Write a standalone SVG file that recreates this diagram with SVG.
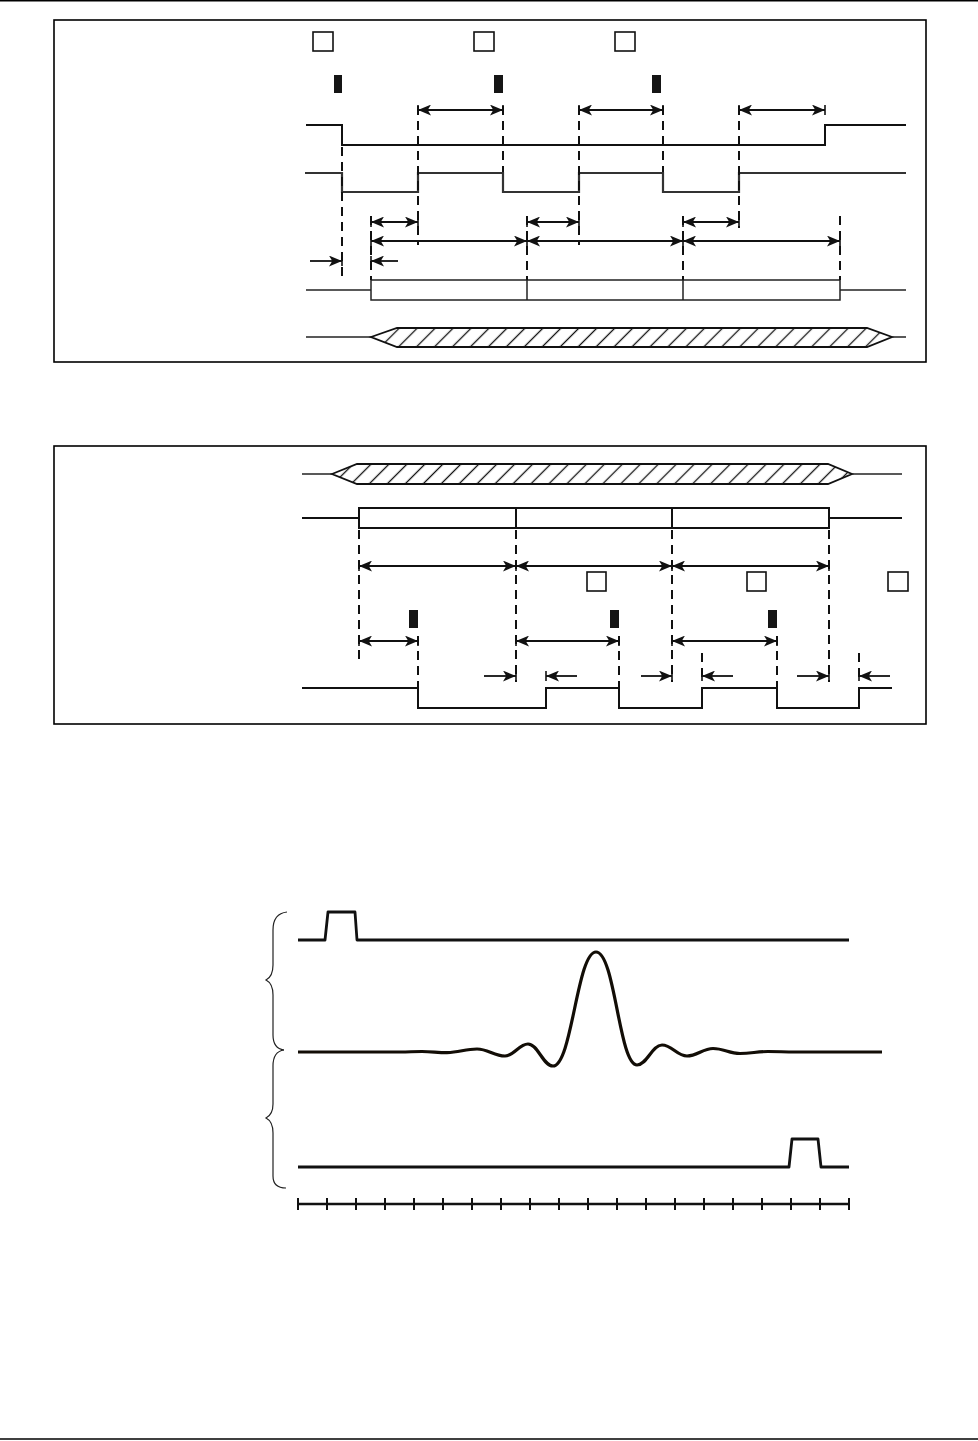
<svg xmlns="http://www.w3.org/2000/svg" width="978" height="1441" viewBox="0 0 978 1441">
<style>
.frame{fill:none;stroke:#000;stroke-width:1.6}
.sig{fill:none;stroke:#111;stroke-width:2;stroke-linejoin:miter}
.sig2{fill:none;stroke:#333;stroke-width:2.2}
.thin{fill:none;stroke:#222;stroke-width:1.5}
.dash{stroke:#111;stroke-width:2;stroke-dasharray:9 6}
.arr{stroke:#111;stroke-width:1.8;fill:none}
.tick{stroke:#111;stroke-width:1.6}
.sq{fill:#fff;stroke:#111;stroke-width:1.6}
.bar{fill:#151515}
.thick{fill:none;stroke:#111;stroke-width:2.8;stroke-linejoin:round}
.wave{fill:none;stroke:#120d06;stroke-width:3.2}
.brace{fill:none;stroke:#222;stroke-width:1.2}
</style>
<defs>
<marker id="ah" viewBox="0 0 12 10" refX="12" refY="5" markerWidth="13" markerHeight="11" markerUnits="userSpaceOnUse" orient="auto-start-reverse">
<path d="M0,0 L12,5 L0,10 L3,5 Z" fill="#111"/>
</marker>
<pattern id="hatch" patternUnits="userSpaceOnUse" width="12.7" height="12.7" patternTransform="rotate(45)">
<line x1="6.35" y1="0" x2="6.35" y2="12.7" stroke="#111" stroke-width="1.3"/>
</pattern>
</defs>
<rect width="978" height="1441" fill="#fff"/>
<line x1="0" y1="0.75" x2="978" y2="0.75" stroke="#000" stroke-width="1.5"/>
<line x1="0" y1="1439" x2="978" y2="1439" stroke="#000" stroke-width="1.5"/>

<g id="panel1">
<rect class="frame" x="54" y="20" width="872" height="342"/>
<g id="p1-markers">
<rect class="sq" x="313" y="32" width="20" height="19"/>
<rect class="sq" x="474" y="32" width="20" height="19"/>
<rect class="sq" x="615" y="32" width="20" height="19"/>
<rect class="bar" x="334" y="75" width="8" height="18"/>
<rect class="bar" x="494" y="75" width="9" height="18"/>
<rect class="bar" x="652" y="75" width="9" height="18"/>
</g>
<g id="p1-signals">
<polyline class="sig" points="306,125 342,125 342,145 825,145 825,125 906,125"/>
<polyline class="sig2" points="305,173 342,173 342,192 418,192 418,173 503,173 503,192 579,192 579,173 663,173 663,192 739,192 739,173 906,173"/>
<line class="thin" x1="306" y1="290" x2="371" y2="290"/>
<rect class="thin" x="371" y="280" width="469" height="20"/>
<line class="thin" x1="527" y1="280" x2="527" y2="300"/>
<line class="thin" x1="683" y1="280" x2="683" y2="300"/>
<line class="thin" x1="840" y1="290" x2="906" y2="290"/>
<line class="thin" x1="306" y1="337" x2="371" y2="337"/>
<polygon points="371,337 397,328 867,328 892,337 867,347 397,347" fill="url(#hatch)" stroke="#111" stroke-width="1.8"/>
<line class="thin" x1="892" y1="337" x2="906" y2="337"/>
</g>
<g id="p1-connectors">
<line class="dash" x1="342" y1="147" x2="342" y2="282"/>
<line class="dash" x1="418" y1="106" x2="418" y2="245"/>
<line class="dash" x1="503" y1="106" x2="503" y2="172"/>
<line class="dash" x1="579" y1="106" x2="579" y2="245"/>
<line class="dash" x1="663" y1="106" x2="663" y2="172"/>
<line class="dash" x1="739" y1="106" x2="739" y2="228"/>
<line class="dash" x1="371" y1="216" x2="371" y2="280"/>
<line class="dash" x1="527" y1="216" x2="527" y2="280"/>
<line class="dash" x1="683" y1="216" x2="683" y2="280"/>
<line class="dash" x1="840" y1="216" x2="840" y2="280"/>
<g class="tick">
<line x1="418" y1="105" x2="418" y2="115"/><line x1="503" y1="105" x2="503" y2="115"/>
<line x1="579" y1="105" x2="579" y2="115"/><line x1="663" y1="105" x2="663" y2="115"/>
<line x1="739" y1="105" x2="739" y2="115"/><line x1="825" y1="105" x2="825" y2="115"/>
<line x1="371" y1="217" x2="371" y2="227"/><line x1="418" y1="217" x2="418" y2="227"/>
<line x1="527" y1="217" x2="527" y2="227"/><line x1="579" y1="217" x2="579" y2="227"/>
<line x1="683" y1="217" x2="683" y2="227"/><line x1="739" y1="217" x2="739" y2="227"/>
<line x1="371" y1="236" x2="371" y2="246"/><line x1="527" y1="236" x2="527" y2="246"/>
<line x1="683" y1="236" x2="683" y2="246"/><line x1="840" y1="236" x2="840" y2="246"/>
<line x1="342" y1="256" x2="342" y2="266"/><line x1="371" y1="256" x2="371" y2="266"/>
</g>
<line class="arr" x1="418" y1="110" x2="503" y2="110" marker-start="url(#ah)" marker-end="url(#ah)"/>
<line class="arr" x1="579" y1="110" x2="663" y2="110" marker-start="url(#ah)" marker-end="url(#ah)"/>
<line class="arr" x1="739" y1="110" x2="825" y2="110" marker-start="url(#ah)" marker-end="url(#ah)"/>
<line class="arr" x1="371" y1="222" x2="418" y2="222" marker-start="url(#ah)" marker-end="url(#ah)"/>
<line class="arr" x1="527" y1="222" x2="579" y2="222" marker-start="url(#ah)" marker-end="url(#ah)"/>
<line class="arr" x1="683" y1="222" x2="739" y2="222" marker-start="url(#ah)" marker-end="url(#ah)"/>
<line class="arr" x1="371" y1="241" x2="527" y2="241" marker-start="url(#ah)" marker-end="url(#ah)"/>
<line class="arr" x1="527" y1="241" x2="683" y2="241" marker-start="url(#ah)" marker-end="url(#ah)"/>
<line class="arr" x1="683" y1="241" x2="840" y2="241" marker-start="url(#ah)" marker-end="url(#ah)"/>
<line class="arr" x1="310" y1="261" x2="342" y2="261" marker-end="url(#ah)"/>
<line class="arr" x1="398" y1="261" x2="371" y2="261" marker-end="url(#ah)"/>
</g>
</g>

<g id="panel2">
<rect class="frame" x="54" y="446" width="872" height="278"/>
<g id="p2-signals">
<line class="thin" x1="302" y1="474" x2="332" y2="474"/>
<polygon points="332,474 357,464 828,464 852,474 828,484 357,484" fill="url(#hatch)" stroke="#111" stroke-width="1.8"/>
<line class="thin" x1="852" y1="474" x2="902" y2="474"/>
<line class="sig" x1="302" y1="518" x2="359" y2="518"/>
<rect class="sig" x="359" y="508" width="470" height="20"/>
<line class="sig" x1="516" y1="508" x2="516" y2="528"/>
<line class="sig" x1="672" y1="508" x2="672" y2="528"/>
<line class="sig" x1="829" y1="518" x2="902" y2="518"/>
<polyline class="sig" points="302,688 418,688 418,708 546,708 546,688 619,688 619,708 702,708 702,688 777,688 777,708 859,708 859,688 892,688"/>
</g>
<g id="p2-markers">
<rect class="sq" x="587" y="572" width="19" height="19"/>
<rect class="sq" x="747" y="572" width="19" height="19"/>
<rect class="sq" x="888" y="572" width="20" height="19"/>
<rect class="bar" x="409" y="610" width="9" height="18"/>
<rect class="bar" x="610" y="610" width="9" height="18"/>
<rect class="bar" x="768" y="610" width="9" height="18"/>
</g>
<g id="p2-connectors">
<line class="dash" x1="359" y1="530" x2="359" y2="664"/>
<line class="dash" x1="516" y1="530" x2="516" y2="682"/>
<line class="dash" x1="672" y1="530" x2="672" y2="682"/>
<line class="dash" x1="829" y1="530" x2="829" y2="682"/>
<line class="dash" x1="418" y1="636" x2="418" y2="688"/>
<line class="dash" x1="619" y1="636" x2="619" y2="688"/>
<line class="dash" x1="777" y1="636" x2="777" y2="688"/>
<line class="dash" x1="702" y1="653" x2="702" y2="682"/>
<line class="dash" x1="859" y1="653" x2="859" y2="682"/>
<g class="tick">
<line x1="359" y1="561" x2="359" y2="571"/><line x1="516" y1="561" x2="516" y2="571"/>
<line x1="672" y1="561" x2="672" y2="571"/><line x1="829" y1="561" x2="829" y2="571"/>
<line x1="359" y1="636" x2="359" y2="646"/><line x1="418" y1="636" x2="418" y2="646"/>
<line x1="516" y1="636" x2="516" y2="646"/><line x1="619" y1="636" x2="619" y2="646"/>
<line x1="672" y1="636" x2="672" y2="646"/><line x1="777" y1="636" x2="777" y2="646"/>
<line x1="516" y1="671" x2="516" y2="681"/><line x1="546" y1="671" x2="546" y2="681"/>
<line x1="672" y1="671" x2="672" y2="681"/><line x1="702" y1="671" x2="702" y2="681"/>
<line x1="829" y1="671" x2="829" y2="681"/><line x1="859" y1="671" x2="859" y2="681"/>
</g>
<line class="arr" x1="359" y1="566" x2="516" y2="566" marker-start="url(#ah)" marker-end="url(#ah)"/>
<line class="arr" x1="516" y1="566" x2="672" y2="566" marker-start="url(#ah)" marker-end="url(#ah)"/>
<line class="arr" x1="672" y1="566" x2="829" y2="566" marker-start="url(#ah)" marker-end="url(#ah)"/>
<line class="arr" x1="359" y1="641" x2="418" y2="641" marker-start="url(#ah)" marker-end="url(#ah)"/>
<line class="arr" x1="516" y1="641" x2="619" y2="641" marker-start="url(#ah)" marker-end="url(#ah)"/>
<line class="arr" x1="672" y1="641" x2="777" y2="641" marker-start="url(#ah)" marker-end="url(#ah)"/>
<line class="arr" x1="484" y1="676" x2="516" y2="676" marker-end="url(#ah)"/>
<line class="arr" x1="577" y1="676" x2="546" y2="676" marker-end="url(#ah)"/>
<line class="arr" x1="641" y1="676" x2="672" y2="676" marker-end="url(#ah)"/>
<line class="arr" x1="733" y1="676" x2="702" y2="676" marker-end="url(#ah)"/>
<line class="arr" x1="797" y1="676" x2="829" y2="676" marker-end="url(#ah)"/>
<line class="arr" x1="890" y1="676" x2="859" y2="676" marker-end="url(#ah)"/>
</g>
</g>

<g id="figure3">
<g id="braces">
<path class="brace" d="M287,912 C278,913 273,919 273,930 L273,965 C273,973 270,978 266,980 C270,982 273,987 273,995 L273,1035 C273,1045 277,1049 284,1050"/>
<path class="brace" d="M284,1050 C277,1051 273,1056 273,1066 L273,1104 C273,1112 270,1116 266,1118 C270,1120 273,1125 273,1133 L273,1176 C273,1184 277,1188 286,1188"/>
</g>
<path id="pulse-in" class="thick" d="M298,940 H325 L328,912 H355 L357,940 H849"/>
<path id="response" class="wave" d="M298,1052 H400 C410,1052 412,1051.5 422,1051.5 C432,1051.5 437,1052.6 447,1052.6 C459,1052.6 465,1049 477,1049 C488,1049 494,1056 505,1056 C514,1056 519,1044 528,1044 C538,1044 543,1066 553,1066 C572,1066 577,952 596,952 C615,952 619,1065 637,1065 C647,1065 652,1045 662,1045 C672,1045 677,1056 687,1056 C697,1056 703,1048.5 713,1048.5 C724,1048.5 729,1053.5 740,1053.5 C751,1053.5 757,1051.5 768,1051.5 C779,1051.5 784,1052 795,1052 H882"/>
<path id="pulse-out" class="thick" d="M298,1167 H789 L792,1139 H818 L821,1167 H849"/>
<g id="axis" stroke="#111" stroke-width="2.5">
<line x1="298" y1="1204" x2="849" y2="1204"/>
<path d="M298,1198V1210 M327,1198V1210 M356,1198V1210 M385,1198V1210 M414,1198V1210 M443,1198V1210 M472,1198V1210 M501,1198V1210 M530,1198V1210 M559,1198V1210 M588,1198V1210 M617,1198V1210 M646,1198V1210 M675,1198V1210 M704,1198V1210 M733,1198V1210 M762,1198V1210 M791,1198V1210 M820,1198V1210 M849,1198V1210" stroke-width="2"/>
</g>
</g>
</svg>
